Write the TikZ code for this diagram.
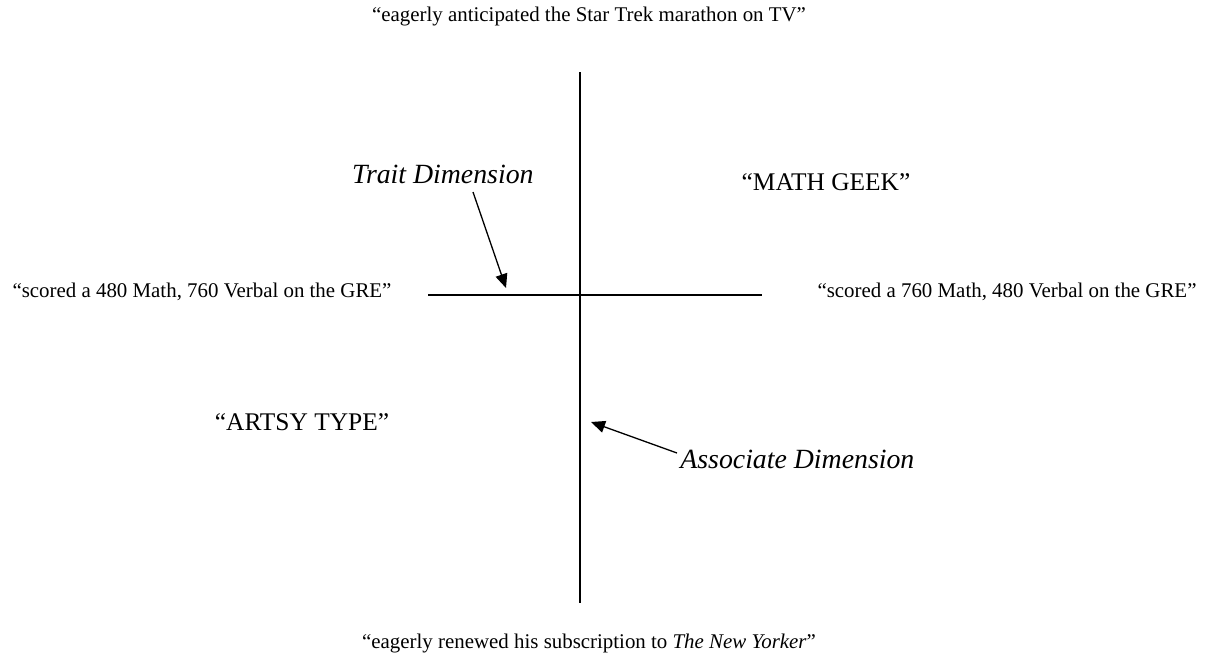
\documentclass[tikz,border=0pt]{standalone}
\usepackage{fontspec}
\setmainfont{Liberation Serif}
\usetikzlibrary{arrows.meta}
\tikzset{
  lbl/.style={inner sep=0pt, anchor=base, font=\fontsize{10.45}{12}\selectfont},
  big/.style={inner sep=0pt, anchor=base, font=\fontsize{12.7}{15}\selectfont},
  dimlbl/.style={inner sep=0pt, font=\fontsize{13.9}{16}\selectfont\itshape},
  axis/.style={line width=0.85pt},
  pointer/.style={line width=0.65pt, -{Triangle[length=7pt,width=6pt]}}
}
\begin{document}
\begin{tikzpicture}[x=0.5pt,y=-0.5pt]
\useasboundingbox (0,0) rectangle (1209,665);
% axes
\coordinate (vtop) at (580,72);
\coordinate (vbot) at (580,603);
\coordinate (hl) at (428,295);
\coordinate (hr) at (762,295);
\draw[axis] (vtop) -- (vbot);
\draw[axis] (hl) -- (hr);
% pole labels
\node[lbl] (top) at (589,21) {“eagerly anticipated the Star Trek marathon on TV”};
\node[lbl] (bottom) at (589,648) {“eagerly renewed his subscription to \textit{The New Yorker}”};
\node[lbl] (left) at (202,297) {“scored a 480 Math, 760 Verbal on the GRE”};
\node[lbl] (right) at (1007,297) {“scored a 760 Math, 480 Verbal on the GRE”};
% quadrant labels
\node[big] (geek) at (826,190) {“MATH GEEK”};
\node[big] (artsy) at (302,430) {“ARTSY TYPE”};
% dimension labels
\node[dimlbl, anchor=base east] (trait) at (534,183) {Trait Dimension};
\node[dimlbl, anchor=base west] (assoc) at (680,468) {Associate Dimension};
\coordinate (traitstart) at (473,192);
\coordinate (traittip) at (506,288);
\coordinate (assocstart) at (677,453);
\coordinate (assoctip) at (591,422);
\draw[pointer] (traitstart) -- (traittip);
\draw[pointer] (assocstart) -- (assoctip);
\end{tikzpicture}
\end{document}
